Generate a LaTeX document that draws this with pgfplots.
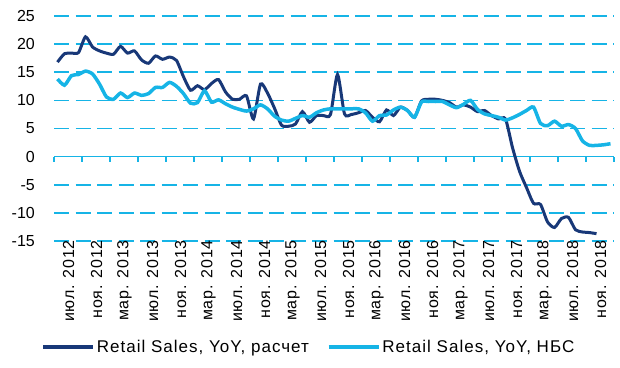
\documentclass[border=0pt]{standalone}
\usepackage{pgfplots}
\pgfplotsset{compat=1.18}
\usepackage{pgfplotstable}
\usepackage{fontspec}
\setmainfont{Liberation Sans}
\newfontfamily\lsfont[LetterSpace=5]{Liberation Sans}
\newfontfamily\lgfont[LetterSpace=6]{Liberation Sans}
\definecolor{navyc}{RGB}{24,56,120}
\definecolor{cyanc}{RGB}{22,180,230}

\pgfplotstableread{
m v
0 16.8
1 18.3
2 18.4
3 18.5
4 21.3
5 19.5
6 18.8
7 18.4
8 18.2
9 19.6
10 18.4
11 18.8
12 17.2
13 16.6
14 17.9
15 17.3
16 17.7
17 17.1
18 14.2
19 11.8
20 12.6
21 11.9
22 13.0
23 13.7
24 11.5
25 10.2
26 10.2
27 10.8
28 6.7
29 12.9
30 11.3
31 8.6
32 5.6
33 5.4
34 5.8
35 8.0
36 6.1
37 7.3
38 7.3
39 7.5
40 14.6
41 7.6
42 7.5
43 7.8
44 8.2
45 7.0
46 6.2
47 8.3
48 7.3
49 8.8
50 8.2
51 7.0
52 9.9
53 10.2
54 10.2
55 10.0
56 9.6
57 8.8
58 9.2
59 8.8
60 8.0
61 8.2
62 7.3
63 6.7
64 6.7
65 1.6
66 -2.6
67 -5.5
68 -8.3
69 -8.5
70 -11.6
71 -12.6
72 -11.0
73 -10.8
74 -13.0
75 -13.4
76 -13.5
77 -13.7
}\dark

\pgfplotstableread{
m v
0 13.8
1 12.7
2 14.4
3 14.6
4 15.2
5 14.7
6 12.9
7 10.6
8 10.2
9 11.3
10 10.5
11 11.3
12 10.9
13 11.2
14 12.3
15 12.3
16 13.2
17 12.5
18 11.2
19 9.5
20 9.6
21 11.7
22 9.7
23 10.1
24 9.4
25 8.8
26 8.4
27 8.1
28 8.5
29 9.2
30 8.5
31 7.2
32 6.5
33 6.3
34 6.8
35 7.3
36 7.0
37 7.8
38 8.3
39 8.5
40 8.5
41 8.5
42 8.5
43 8.5
44 7.8
45 6.3
46 7.3
47 7.4
48 8.3
49 8.8
50 8.2
51 7.0
52 9.7
53 9.8
54 9.8
55 9.8
56 9.2
57 8.7
58 9.3
59 10.0
60 8.4
61 7.6
62 7.3
63 7.0
64 6.5
65 6.9
66 7.5
67 8.2
68 8.8
69 5.9
70 5.5
71 6.3
72 5.4
73 5.7
74 5.0
75 2.8
76 2.0
77 2.0
78 2.1
79 2.3
}\light

\begin{document}
\begin{tikzpicture}
% zero line with tick marks
\begin{axis}[
  scale only axis, width=560pt, height=225pt,
  xmin=-0.5, xmax=79.5, ymin=-15, ymax=25,
  axis x line=middle, axis y line=none,
  axis line style={-, draw=cyanc, line width=1.5pt},
  xtick={-0.5,3.5,...,79.5}, xticklabels={},
  ytick=\empty,
  tick align=outside, major tick length=5pt,
  x tick style={draw=cyanc, line width=1.3pt},
]
\end{axis}
\begin{axis}[
  name=main,
  scale only axis, width=560pt, height=225pt,
  xmin=-0.5, xmax=79.5, ymin=-15, ymax=25,
  axis line style={draw=none},
  major tick length=0pt,
  ytick={-15,-10,...,25},
  ymajorgrids,
  grid style={draw=cyanc, line width=1.6pt, dash pattern=on 15pt off 6.5pt},
  xtick={0,4,...,76},
  xticklabels={июл. 2012, ноя. 2012, мар. 2013, июл. 2013, ноя. 2013, мар. 2014, июл. 2014, ноя. 2014, мар. 2015, июл. 2015, ноя. 2015, мар. 2016, июл. 2016, ноя. 2016, мар. 2017, июл. 2017, ноя. 2017, мар. 2018, июл. 2018, ноя. 2018},
  xticklabel style={font=\lsfont\fontsize{16}{18}\selectfont, rotate=90, anchor=east, inner sep=0pt, yshift=-11pt, xshift=1pt},
  yticklabel style={font=\fontsize{16}{18}\selectfont, anchor=east, inner sep=0pt, xshift=-19pt},
  /pgf/number format/assume math mode=true,
  clip=false,
  legend columns=2,
  legend style={draw=none, fill=none, at={(0.455,-0.471)}, anchor=center,
    font=\lgfont\fontsize{17}{19}\selectfont,
    /tikz/every even column/.append style={column sep=16pt}},
  legend image code/.code={\draw[#1, line width=3.5pt] (0pt,0pt) -- (50pt,0pt);},
]
\addplot[navyc, line width=3pt, smooth, tension=0.4] table[x=m, y=v] {\dark};
\addlegendentry{Retail Sales, YoY, расчет}
\addplot[cyanc, line width=3.5pt, smooth, tension=0.4] table[x=m, y=v] {\light};
\addlegendentry{Retail Sales, YoY, НБС}
\end{axis}
\pgfresetboundingbox
\path[use as bounding box] ([xshift=-54pt,yshift=-126pt]main.south west) rectangle ([xshift=6pt,yshift=16pt]main.north east);
\end{tikzpicture}
\end{document}
